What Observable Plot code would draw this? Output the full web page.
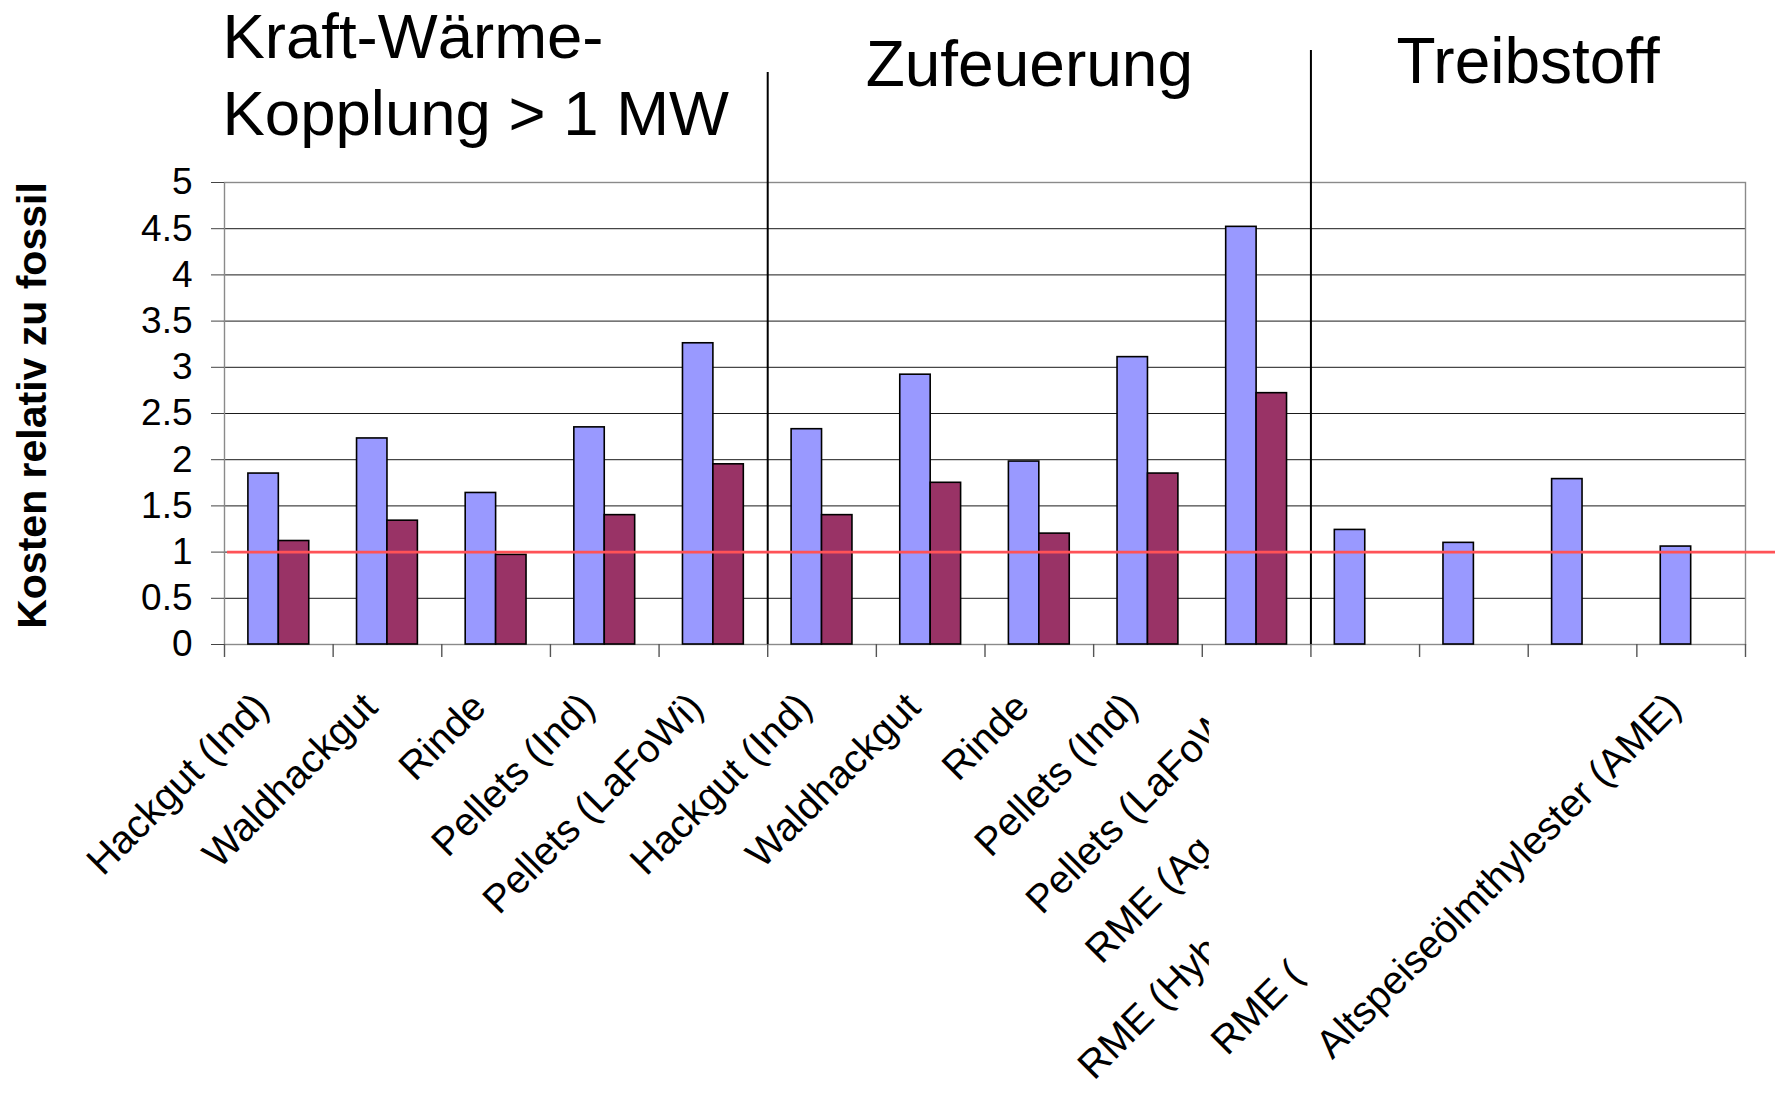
<!DOCTYPE html>
<html>
<head>
<meta charset="utf-8">
<script src="https://cdn.jsdelivr.net/npm/d3@7"></script>
<script src="https://cdn.jsdelivr.net/npm/@observablehq/plot@0.6"></script>
<style>
  html, body { margin: 0; padding: 0; background: #ffffff; }
  #chart { width: 1775px; height: 1093px; overflow: hidden; }
</style>
</head>
<body>
<div id="chart"></div>
<script>
// ---------- data ----------
const categories = [
  "Hackgut (Ind)", "Waldhackgut", "Rinde", "Pellets (Ind)", "Pellets (LaFoWi)",
  "Hackgut (Ind)", "Waldhackgut", "Rinde", "Pellets (Ind)", "Pellets (LaFoWi)",
  "RME (Ag", "RME (Hyb", "RME (", "Altspeiseölmthylester (AME)"
];
const groupTitles = ["Kraft-Wärme-\nKopplung > 1 MW", "Zufeuerung", "Treibstoff"];
const groupFirstCategory = [0, 5, 10];
const seriesNames = ["Serie 1", "Serie 2"];
const series1Values = [1.85, 2.23, 1.64, 2.35, 3.26, 2.33, 2.92, 1.98, 3.11, 4.52, 1.24, 1.10, 1.79, 1.06];
const series2Values = [1.12, 1.34, 0.97, 1.40, 1.95, 1.40, 1.75, 1.20, 1.85, 2.72, null, null, null, null];
const yTicks = [0, 0.5, 1, 1.5, 2, 2.5, 3, 3.5, 4, 4.5, 5];
const referenceValue = [1];
const yLabel = "Kosten relativ zu fossil";

// ---------- layout ----------
const W = 1775, H = 1093;
const ML = 224, MR = 30, MT = 182, MB = 449;
const n = categories.length;
const padInner = 0.44, padOuter = 0.22;
const step = (W - ML - MR) / n;
const bw = step * (1 - padInner);
const font = "'Liberation Sans', Arial, Helvetica, sans-serif";

const idx = d3.range(n);
const rows1 = idx.map(i => ({i, series: seriesNames[0], value: series1Values[i]}));
const rows2 = idx.filter(i => series2Values[i] != null).map(i => ({i, series: seriesNames[1], value: series2Values[i]}));

const chart = Plot.plot({
  width: W, height: H,
  marginLeft: ML, marginRight: MR, marginTop: MT, marginBottom: MB,
  style: {fontFamily: font, background: "#ffffff", color: "#000000", overflow: "visible"},
  x: {type: "band", domain: idx, paddingInner: padInner, paddingOuter: padOuter, round: false, axis: null},
  y: {domain: [0, 5], axis: null},
  marks: [
    Plot.gridY(yTicks.filter(v => v > 0 && v < 5), {stroke: "#1a1a1a", strokeOpacity: 1, strokeWidth: 1}),
    Plot.frame({stroke: "#8a8a8a", strokeWidth: 1.4}),
    // category boundary ticks below the axis
    Plot.ruleX(idx, {x: d => d, dx: -step / 2, insetTop: H - MT - MB, insetBottom: -13, stroke: "#555", strokeWidth: 1.4}),
    Plot.ruleX([n - 1], {x: d => d, dx: step / 2, insetTop: H - MT - MB, insetBottom: -13, stroke: "#555", strokeWidth: 1.4}),
    // bars
    Plot.barY(rows1, {x: "i", y: "value", fill: "#9999ff", stroke: "#000", strokeWidth: 1.6, insetRight: bw / 2}),
    Plot.barY(rows2, {x: "i", y: "value", fill: "#993366", stroke: "#000", strokeWidth: 1.6, insetLeft: bw / 2}),
    // group dividers
    Plot.ruleX([groupFirstCategory[1]], {x: d => d, dx: -step / 2, insetTop: -(MT - 72), stroke: "#000", strokeWidth: 2}),
    Plot.ruleX([groupFirstCategory[2]], {x: d => d, dx: -step / 2, insetTop: -(MT - 50), stroke: "#000", strokeWidth: 2}),
    // reference line
    Plot.ruleY(referenceValue, {stroke: "#ff5257", strokeWidth: 2.7, insetLeft: 3, insetRight: -MR}),
    // axes
    Plot.axisY(yTicks, {tickSize: 13, tickPadding: 19, fontSize: 37, stroke: "#444", label: null, tickFormat: d => String(d)}),
    Plot.axisX(idx, {tickRotate: -45, tickSize: 0, tickPadding: 56, dx: -17, fontSize: 39.5, label: null, tickFormat: i => categories[i]}),
    // y title
    Plot.text([yLabel], {frameAnchor: "left", rotate: -90, dx: -192, dy: -8, fontSize: 41, fontWeight: "bold", textAnchor: "middle"}),
    // group titles
    Plot.text([groupFirstCategory[0]], {x: d => d, dx: -step / 2 - 2, frameAnchor: "top", dy: -179, text: () => groupTitles[0], textAnchor: "start", lineAnchor: "top", lineHeight: 1.21, fontSize: 63.5}),
    Plot.text([7], {x: d => d, dx: -10, frameAnchor: "top", dy: -142, text: () => groupTitles[1], textAnchor: "middle", lineAnchor: "top", fontSize: 64}),
    Plot.text([12], {x: d => d, dx: -step / 2, frameAnchor: "top", dy: -145, text: () => groupTitles[2], textAnchor: "middle", lineAnchor: "top", fontSize: 64})
  ]
});

document.getElementById("chart").appendChild(chart);

// the reference's labels for the last categories are partly hidden: shift along baseline and clip
const labelShiftEm = {10: 5.1, 11: 8.7, 12: 9.6};
const boundary = k => ML + k * step;
const labelClip = {9: boundary(9) + 7, 10: boundary(9) + 7, 11: boundary(9) + 7, 12: boundary(10) - 3};
const ns = "http://www.w3.org/2000/svg";
const labelTexts = chart.querySelectorAll('g[aria-label="x-axis tick label"] text');
const defs = document.createElementNS(ns, "defs");
chart.insertBefore(defs, chart.firstChild);
const rootCTM = chart.getScreenCTM();
labelTexts.forEach((t, k) => {
  if (labelShiftEm[k] != null) t.setAttribute("dx", (-labelShiftEm[k]) + "em");
  if (labelClip[k] != null) {
    const g = document.createElementNS(ns, "g");
    t.parentNode.insertBefore(g, t);
    g.appendChild(t);
    // express the clip edge (svg root coordinates) in the group's local coordinates
    const toRoot = rootCTM.inverse().multiply(g.getScreenCTM());
    const inv = toRoot.inverse();
    const X = labelClip[k];
    const pts = [[X - 4000, -4000], [X, -4000], [X, 5000], [X - 4000, 5000]].map(([px, py]) => {
      const p = new DOMPoint(px, py).matrixTransform(inv);
      return p.x + "," + p.y;
    });
    const cp = document.createElementNS(ns, "clipPath");
    cp.setAttribute("id", "lblclip" + k);
    cp.setAttribute("clipPathUnits", "userSpaceOnUse");
    const poly = document.createElementNS(ns, "polygon");
    poly.setAttribute("points", pts.join(" "));
    cp.appendChild(poly);
    defs.appendChild(cp);
    g.setAttribute("clip-path", `url(#lblclip${k})`);
  }
});
</script>
</body>
</html>
